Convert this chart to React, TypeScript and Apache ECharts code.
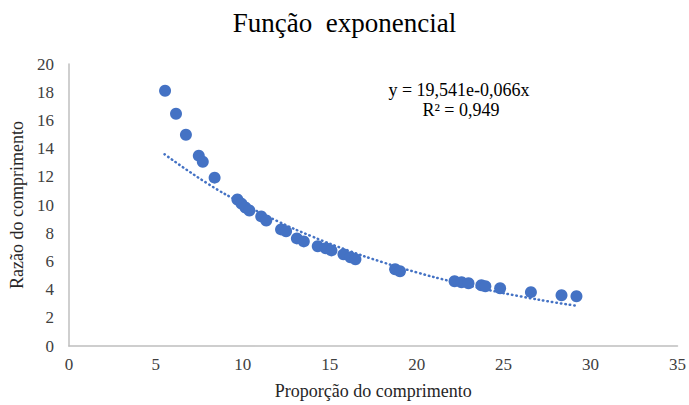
import React, { useEffect, useRef } from "react";
import * as echarts from "echarts";

const titleText = "Função  exponencial";
const xAxisName = "Proporção do comprimento";
const yAxisName = "Razão do comprimento";
const equationText = "y = 19,541e-0,066x";
const r2Text = "R² = 0,949";

const pointsX = [
  5.53, 6.16, 6.73, 7.47, 7.7, 8.38, 9.69, 9.92, 10.15, 10.38, 11.06, 11.35,
  12.2, 12.49, 13.11, 13.51, 14.31, 14.77, 15.1, 15.79, 16.19, 16.48, 18.76,
  19.04, 22.18, 22.58, 22.98, 23.72, 23.95, 24.8, 26.57, 28.33, 29.19,
];
const pointsY = [
  18.1, 16.47, 14.98, 13.5, 13.07, 11.94, 10.39, 10.1, 9.82, 9.61, 9.19, 8.9,
  8.27, 8.13, 7.63, 7.42, 7.07, 6.93, 6.78, 6.5, 6.29, 6.15, 5.44, 5.3, 4.59,
  4.52, 4.45, 4.31, 4.24, 4.1, 3.82, 3.6, 3.53,
];

const trendX = [5.5, 8, 10, 12, 14, 16, 18, 20, 22, 24, 26, 28, 29.2];
const trendY = [13.6, 11.5, 10.1, 8.85, 7.76, 6.8, 5.96, 5.22, 4.58, 4.01, 3.51, 3.08, 2.85];

const xTicks = { min: 0, max: 35, interval: 5 };
const yTicks = { min: 0, max: 20, interval: 2 };

const FONT = "Liberation Serif";
const BLUE = "#4472C4";

export default function App() {
  const ref = useRef<HTMLDivElement>(null);
  useEffect(() => {
    if (!ref.current) return;
    const chart = echarts.init(ref.current, undefined, { renderer: "svg" });
    chart.setOption({
      animation: false,
      backgroundColor: "#ffffff",
      textStyle: { fontFamily: FONT },
      title: {
        text: titleText,
        left: "center",
        top: 4,
        textStyle: { fontFamily: FONT, fontSize: 27, fontWeight: "normal", color: "#000" },
      },
      grid: { left: 66, right: 9, top: 64, bottom: 58 },
      xAxis: {
        type: "value",
        min: xTicks.min,
        max: xTicks.max,
        interval: xTicks.interval,
        name: xAxisName,
        nameLocation: "middle",
        nameGap: 36,
        nameTextStyle: { fontFamily: FONT, fontSize: 18, color: "#262626" },
        axisLine: { show: true, lineStyle: { color: "#BFBFBF", width: 1.5 } },
        axisTick: { show: false },
        splitLine: { show: false },
        axisLabel: { fontFamily: FONT, fontSize: 17, color: "#404040", margin: 10 },
      },
      yAxis: {
        type: "value",
        min: yTicks.min,
        max: yTicks.max,
        interval: yTicks.interval,
        name: yAxisName,
        nameLocation: "middle",
        nameGap: 40,
        nameRotate: 90,
        nameTextStyle: { fontFamily: FONT, fontSize: 18, color: "#262626" },
        axisLine: { show: true, lineStyle: { color: "#BFBFBF", width: 1.5 } },
        axisTick: { show: false },
        splitLine: { show: false },
        axisLabel: { fontFamily: FONT, fontSize: 17, color: "#404040", margin: 15 },
      },
      series: [
        {
          type: "line",
          data: trendX.map((x, i) => [x, trendY[i]]),
          smooth: true,
          showSymbol: false,
          symbol: "none",
          lineStyle: { color: BLUE, width: 2.5, type: [0.5, 4], cap: "round" },
          z: 1,
        },
        {
          type: "scatter",
          data: pointsX.map((x, i) => [x, pointsY[i]]),
          symbolSize: 12,
          itemStyle: { color: BLUE, opacity: 1 },
          z: 2,
        },
      ],
      graphic: [
        {
          type: "text",
          x: 459,
          y: 90,
          style: {
            text: equationText,
            font: `18px ${FONT}`,
            fill: "#000",
            align: "center",
            verticalAlign: "middle",
          },
        },
        {
          type: "text",
          x: 461,
          y: 110,
          style: {
            text: r2Text,
            font: `18px ${FONT}`,
            fill: "#000",
            align: "center",
            verticalAlign: "middle",
          },
        },
      ],
    });
    return () => chart.dispose();
  }, []);
  return (
    <div
      ref={ref}
      style={{ position: "fixed", left: 0, top: 0, width: 689, height: 405 }}
    />
  );
}
